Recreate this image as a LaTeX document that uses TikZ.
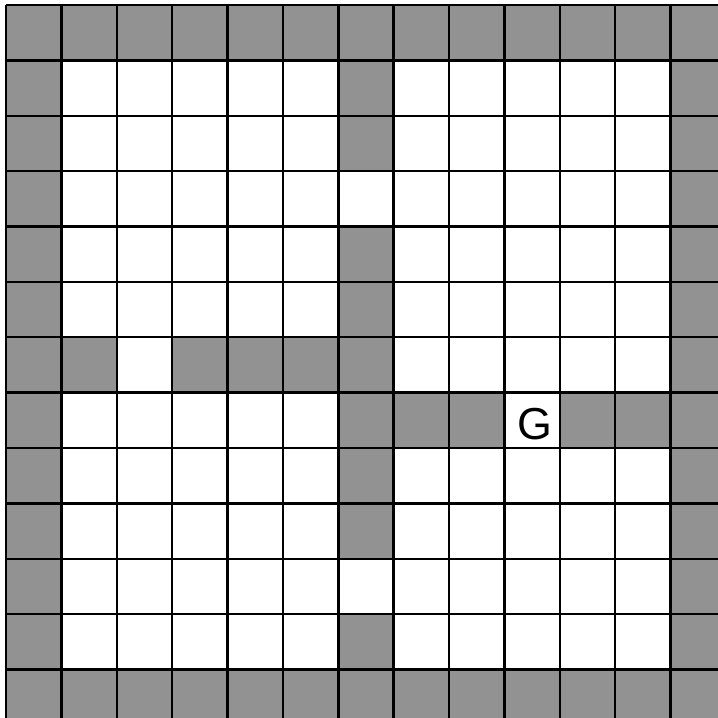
\documentclass[tikz,border=0pt]{standalone}
\usepackage{fontspec}
\setmainfont{Liberation Sans}
\usepackage{xcolor}
\usepackage{tikz}
\definecolor{wallgray}{RGB}{146,146,146}

\begin{document}
\begin{tikzpicture}[
      x=1cm, y=-1cm,
      wall/.style={fill=wallgray, draw=none},
      gridline/.style={draw=black, line width=1.25pt},
      goal/.style={font=\fontsize{23}{26}\selectfont, inner sep=0pt},
    ]
    \useasboundingbox (-0.109,-0.09) rectangle (12.855,12.875);
    % ---- outer frame of walls ----
    \foreach \i in {0,...,12} {
      \fill[wall] (\i,0) rectangle ++(1,1);
      \fill[wall] (\i,12) rectangle ++(1,1);
      \fill[wall] (0,\i) rectangle ++(1,1);
      \fill[wall] (12,\i) rectangle ++(1,1);
    }
    % ---- inner walls (column, row) ----
    \foreach \c/\r in {6/1, 6/2, 6/4, 6/5, 6/6, 6/7, 6/8, 6/9, 6/11,
                       1/6, 3/6, 4/6, 5/6,
                       7/7, 8/7, 10/7, 11/7}
      \fill[wall] (\c,\r) rectangle ++(1,1);
    % ---- grid lines ----
    \foreach \k in {0,...,13} {
      \draw[gridline] (\k,0) -- (\k,13);
      \draw[gridline] (0,\k) -- (13,\k);
    }
    % goal cell
    \node[goal] (goalG) at (9.55,7.56) {G};
  \end{tikzpicture}
\end{document}
